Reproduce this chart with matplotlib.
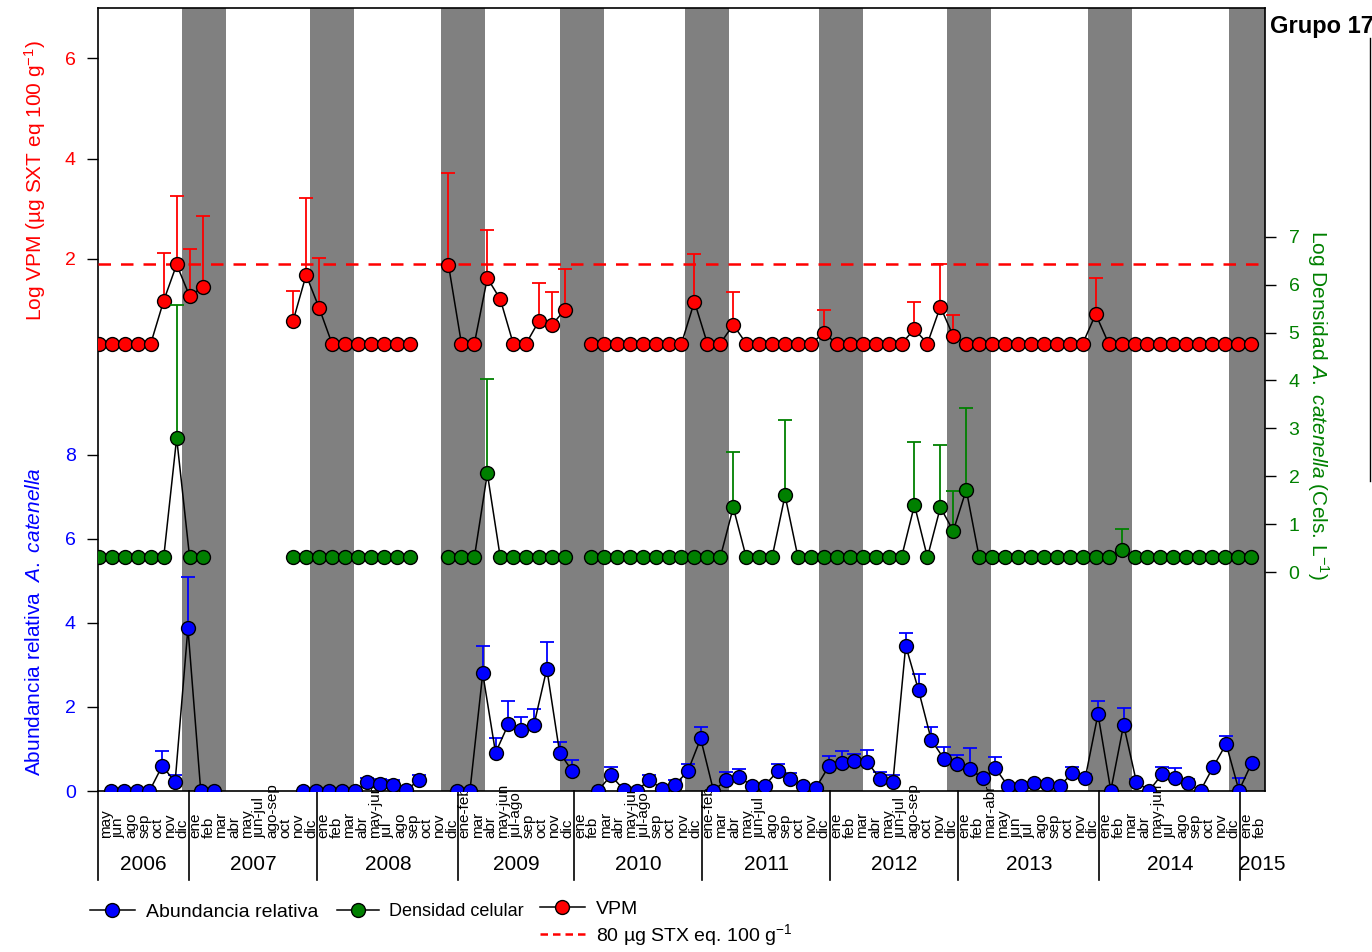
import numpy as np
import matplotlib
matplotlib.use('Agg')
import matplotlib.pyplot as plt
import matplotlib.transforms as mtransforms
from matplotlib.lines import Line2D
from matplotlib import font_manager

nan = np.nan

# Sampling labels (month or merged months) grouped by year
years = ['2006', '2007', '2008', '2009', '2010', '2011', '2012', '2013', '2014', '2015']
months = [
    'may', 'jun', 'ago', 'sep', 'oct', 'nov', 'dic',
    'ene', 'feb', 'mar', 'abr', 'may', 'jun-jul', 'ago-sep', 'oct', 'nov', 'dic',
    'ene', 'feb', 'mar', 'abr', 'may-jun', 'jul', 'ago', 'sep', 'oct', 'nov', 'dic',
    'ene-feb', 'mar', 'abr', 'may-jun', 'jul-ago', 'sep', 'oct', 'nov', 'dic',
    'ene', 'feb', 'mar', 'abr', 'may-jun', 'jul-ago', 'sep', 'oct', 'nov', 'dic',
    'ene-feb', 'mar', 'abr', 'may', 'jun-jul', 'ago', 'sep', 'oct', 'nov', 'dic',
    'ene', 'feb', 'mar', 'abr', 'may', 'jun-jul', 'ago-sep', 'oct', 'nov', 'dic',
    'ene', 'feb', 'mar-abr', 'may', 'jun', 'jul', 'ago', 'sep', 'oct', 'nov', 'dic',
    'ene', 'feb', 'mar', 'abr', 'may-jun', 'jul', 'ago', 'sep', 'oct', 'nov', 'dic',
    'ene', 'feb',
]
months_per_year = [7, 10, 11, 9, 10, 10, 10, 11, 11, 2]

# Log VPM (ug STX eq 100 g-1) and upper error
vpm = [0.315, 0.315, 0.315, 0.315, 0.315, 1.17, 1.89, 1.26, 1.44, nan,
       nan, nan, nan, nan, nan, 0.77, 1.68, 1.03, 0.315, 0.315,
       0.315, 0.315, 0.315, 0.315, 0.315, nan, nan, 1.88, 0.315, 0.315,
       1.62, 1.20, 0.315, 0.315, 0.77, 0.69, 0.99, nan, 0.315, 0.315,
       0.315, 0.315, 0.315, 0.315, 0.315, 0.315, 1.15, 0.315, 0.315, 0.69,
       0.315, 0.315, 0.315, 0.315, 0.315, 0.315, 0.52, 0.315, 0.315, 0.315,
       0.315, 0.315, 0.315, 0.60, 0.315, 1.05, 0.46, 0.315, 0.315, 0.315,
       0.315, 0.315, 0.315, 0.315, 0.315, 0.315, 0.315, 0.90, 0.315, 0.315,
       0.315, 0.315, 0.315, 0.315, 0.315, 0.315, 0.315, 0.315, 0.315, 0.315]
vpm_err = [0, 0, 0, 0, 0, 0.95, 1.37, 0.93, 1.42, 0,
           0, 0, 0, 0, 0, 0.60, 1.53, 0.99, 0, 0,
           0, 0, 0, 0, 0, 0, 0, 1.84, 0, 0,
           0.96, 0, 0, 0, 0.76, 0.66, 0.81, 0, 0, 0,
           0, 0, 0, 0, 0, 0, 0.95, 0, 0, 0.66,
           0, 0, 0, 0, 0, 0, 0.47, 0, 0, 0,
           0, 0, 0, 0.55, 0, 0.85, 0.43, 0, 0, 0,
           0, 0, 0, 0, 0, 0, 0, 0.72, 0, 0,
           0, 0, 0, 0, 0, 0, 0, 0, 0, 0]

# Log cell density of A. catenella and upper error
dens = [0.31, 0.31, 0.31, 0.31, 0.31, 0.31, 2.80, 0.31, 0.31, nan,
        nan, nan, nan, nan, nan, 0.31, 0.31, 0.31, 0.31, 0.31,
        0.31, 0.31, 0.31, 0.31, 0.31, nan, nan, 0.31, 0.31, 0.31,
        2.06, 0.31, 0.31, 0.31, 0.31, 0.31, 0.31, nan, 0.31, 0.31,
        0.31, 0.31, 0.31, 0.31, 0.31, 0.31, 0.31, 0.31, 0.31, 1.35,
        0.31, 0.31, 0.31, 1.60, 0.31, 0.31, 0.31, 0.31, 0.31, 0.31,
        0.31, 0.31, 0.31, 1.40, 0.31, 1.35, 0.86, 1.72, 0.31, 0.31,
        0.31, 0.31, 0.31, 0.31, 0.31, 0.31, 0.31, 0.31, 0.31, 0.46,
        0.31, 0.31, 0.31, 0.31, 0.31, 0.31, 0.31, 0.31, 0.31, 0.31]
dens_err = [0, 0, 0, 0, 0, 0, 2.77, 0, 0, 0,
            0, 0, 0, 0, 0, 0, 0, 0, 0, 0,
            0, 0, 0, 0, 0, 0, 0, 0, 0, 0,
            1.97, 0, 0, 0, 0, 0, 0, 0, 0, 0,
            0, 0, 0, 0, 0, 0, 0, 0, 0, 1.15,
            0, 0, 0, 1.57, 0, 0, 0, 0, 0, 0,
            0, 0, 0, 1.31, 0, 1.30, 0.84, 1.71, 0, 0,
            0, 0, 0, 0, 0, 0, 0, 0, 0, 0.43,
            0, 0, 0, 0, 0, 0, 0, 0, 0, 0]

# Relative abundance of A. catenella and upper error
abund = [0, 0, 0, 0, 0.60, 0.21, 3.88, 0, 0, nan,
         nan, nan, nan, nan, nan, 0, 0, 0, 0, 0,
         0.21, 0.16, 0.14, 0.02, 0.25, nan, nan, 0, 0, 2.80,
         0.91, 1.59, 1.46, 1.58, 2.91, 0.91, 0.47, nan, 0.01, 0.37,
         0.03, 0.01, 0.26, 0.05, 0.15, 0.47, 1.25, 0.01, 0.26, 0.33,
         0.13, 0.13, 0.47, 0.28, 0.13, 0.08, 0.59, 0.67, 0.72, 0.69,
         0.29, 0.21, 3.46, 2.40, 1.21, 0.76, 0.65, 0.53, 0.30, 0.54,
         0.11, 0.13, 0.20, 0.17, 0.12, 0.42, 0.30, 1.83, 0.01, 1.58,
         0.21, 0.01, 0.40, 0.30, 0.18, 0.01, 0.58, 1.12, 0.01, 0.67]
abund_err = [0, 0, 0, 0, 0.35, 0.17, 1.22, 0, 0, 0,
             0, 0, 0, 0, 0, 0, 0, 0, 0, 0,
             0.11, 0.12, 0.11, 0, 0.13, 0, 0, 0, 0, 0.65,
             0.36, 0.56, 0.29, 0.37, 0.64, 0.26, 0.27, 0, 0, 0.21,
             0, 0, 0.13, 0, 0.10, 0.17, 0.27, 0, 0.20, 0.20,
             0, 0, 0.17, 0.14, 0, 0, 0.25, 0.29, 0.16, 0.29,
             0.16, 0.16, 0.29, 0.39, 0.32, 0.28, 0.20, 0.49, 0.10, 0.26,
             0, 0, 0, 0, 0, 0.15, 0.10, 0.31, 0, 0.39,
             0.08, 0, 0.17, 0.25, 0.10, 0, 0, 0.18, 0.30, 0]

# Shaded periods (start position on the sampling axis) and regulatory limit
band_start = [6.54, 16.53, 26.75, 36.03, 45.78, 56.24, 66.23, 77.23, 88.23]
band_width = 3.4
limit_ug = 80

plt.rcParams['font.family'] = ['Liberation Sans', 'DejaVu Sans']
plt.rcParams['mathtext.fontset'] = 'custom'
plt.rcParams['mathtext.rm'] = 'Liberation Sans'
plt.rcParams['mathtext.it'] = 'Liberation Sans:italic'
plt.rcParams['mathtext.default'] = 'regular'

installed = {f.name for f in font_manager.fontManager.ttflist}
narrow = 'Liberation Sans Narrow' if 'Liberation Sans Narrow' in installed else 'Liberation Sans'

fig = plt.figure(figsize=(13.72, 9.52), dpi=100)
rect = [98 / 1372, 1 - 791 / 952, 1167 / 1372, 783 / 952]
ax = fig.add_axes(rect)      # abundance + shading + x labels
ax_v = fig.add_axes(rect)    # VPM
ax_d = fig.add_axes(rect)    # cell density
for a in (ax_v, ax_d):
    a.patch.set_visible(False)
    for s in a.spines.values():
        s.set_visible(False)
    a.set_xticks([])


def draw_series(a, x, y, err, color):
    y = np.array(y, dtype=float)
    err = np.array(err, dtype=float)
    m = err > 0
    a.errorbar(x[m], y[m], yerr=[np.zeros(m.sum()), err[m]], fmt='none', ecolor=color,
               elinewidth=1.3, capsize=5, capthick=1.3, zorder=2)
    a.plot(x, y, '-', color='black', lw=1.1, zorder=3)
    a.plot(x, y, 'o', ls='none', mfc=color, mec='black', mew=1, ms=10, zorder=4)


# abundance (bottom panel)
x_ab = np.arange(1, len(abund) + 1)
for b in band_start:
    ax.axvspan(b, b + band_width, color='#808080', lw=0, zorder=0)
draw_series(ax, x_ab, abund, abund_err, 'blue')
ax.set_xlim(-0.016, 91.03)
ax.set_ylim(0, 18.64)
ax.set_xticks([])
ax.set_yticks([0, 2, 4, 6, 8])
ax.tick_params(axis='y', length=8, width=1, pad=8, labelsize=14, labelcolor='blue')
for s in ax.spines.values():
    s.set_linewidth(1.2)

# VPM (top panel)
x_vd = np.arange(len(vpm))
ax_v.axhline(np.log10(limit_ug), color='red', ls=(0, (5, 4)), lw=1.8, zorder=1)
draw_series(ax_v, x_vd, vpm, vpm_err, 'red')
ax_v.set_xlim(-0.077, 90.08)
ax_v.set_ylim(-8.6, 7.0)
ax_v.set_yticks([2, 4, 6])
ax_v.tick_params(axis='y', length=8, width=1, pad=8, labelsize=14, labelcolor='red')

# cell density (middle panel)
draw_series(ax_d, x_vd, dens, dens_err, 'green')
ax_d.set_xlim(-0.077, 90.08)
ax_d.set_ylim(-4.57, 11.775)
ax_d.set_yticks(range(8))
ax_d.yaxis.set_ticks_position('right')
ax_d.tick_params(axis='y', length=8, width=1, pad=9, labelsize=14, labelcolor='green',
                 left=False, labelleft=False, right=True, labelright=True)

# month labels, year separators and year names
trans = mtransforms.blended_transform_factory(ax.transData, ax.transAxes)
label_pos = np.arange(len(months)) + 0.6
for p, lab in zip(label_pos, months):
    ax.text(p, -0.06, lab, rotation=90, ha='center', va='bottom', fontsize=11,
            family=narrow, transform=trans)

first = np.concatenate([[0], np.cumsum(months_per_year)])
edges = [ax.get_xlim()[0]] + [label_pos[k] - 0.5 for k in first[1:-1]] + [label_pos[-1] + 2.0]
for e in edges[:-1]:
    ax.plot([e, e], [0, -0.1137], color='black', lw=1.2, transform=trans, clip_on=False)
for k, yr in enumerate(years):
    ax.text((edges[k] + edges[k + 1]) / 2, -0.0945, yr, ha='center', va='center',
            fontsize=15, family=narrow, transform=trans)

# axis titles
fig.text(35 / 1372, 1 - 181 / 952, 'Log VPM (µg SXT eq 100 g$^{-1}$)', rotation=90,
         color='red', fontsize=15, ha='center', va='center')
fig.text(35 / 1372, 1 - 622 / 952, 'Abundancia relativa  $\\it{A.\\ catenella}$', rotation=90,
         color='blue', fontsize=15, ha='center', va='center')
fig.text(1318 / 1372, 1 - 405 / 952, 'Log Densidad $\\it{A.\\ catenella}$ (Cels. L$^{-1}$)',
         rotation=270, color='green', fontsize=15, ha='center', va='center')
fig.text(1270 / 1372, 1 - 27 / 952, 'Grupo 17', fontsize=17, fontweight='bold',
         ha='left', va='center')
fig.add_artist(Line2D([1370 / 1372, 1370 / 1372], [1 - 38 / 952, 1 - 481 / 952],
                      color='black', lw=1))


# legend: three separate blocks placed like the original
def series_handle(color):
    return Line2D([], [], color='black', lw=1.1, marker='o', mfc=color, mec='black', ms=10)


leg_kw = dict(frameon=False, handlelength=2.3, handletextpad=0.6,
              labelspacing=0.2, borderaxespad=0, borderpad=0, loc='center left')
blocks = [
    ([series_handle('blue')], ['Abundancia relativa'], 90, 912, 14),
    ([series_handle('green')], ['Densidad celular'], 337, 912, 13),
    ([series_handle('red'), Line2D([], [], color='red', ls=(0, (3, 2)), lw=1.8)],
     ['VPM', f'{limit_ug} µg STX eq. 100 g$^{{-1}}$'], 540, 924, 14),
]
for h, l, px, py, fs in blocks:
    fig.legend(h, l, bbox_to_anchor=(px / 1372, 1 - py / 952), fontsize=fs, **leg_kw)

fig.savefig('out.png', dpi=100)
